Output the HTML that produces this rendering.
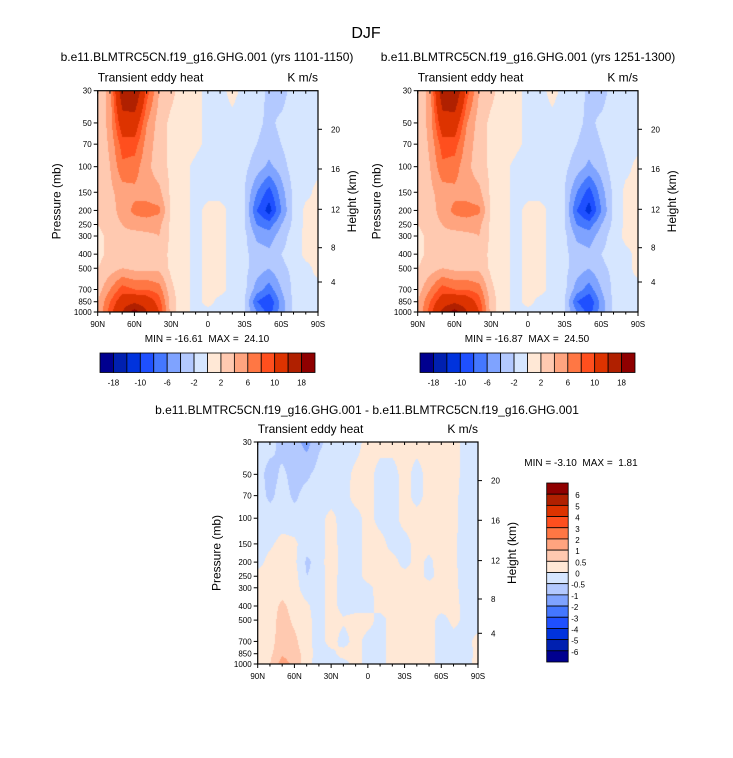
<!DOCTYPE html>
<html><head><meta charset="utf-8">
<style>
body{margin:0;background:#fff;}
#root{position:relative;width:733px;height:758px;overflow:hidden;background:#fff;font-family:"Liberation Sans",sans-serif;}
canvas{position:absolute;}
svg{position:absolute;left:0;top:0;}
</style></head>
<body>
<div id="root">
<canvas id="c1"></canvas>
<canvas id="c2"></canvas>
<canvas id="c3"></canvas>
<svg id="ov" width="733" height="758"></svg>
</div>
<script>
// ---- data ----
const lats = ["90N","80N","70N","60N","50N","40N","30N","20N","10N","0","10S","20S","30S","40S","50S","60S","70S","80S","90S"];
const levels = [30,50,70,100,150,200,250,300,400,500,700,850,1000];
const latTickLabels = ["90N","60N","30N","0","30S","60S","90S"];
const pressureTickLabels = [30,50,70,100,150,200,250,300,400,500,700,850,1000];
const heightTickLabels = [4,8,12,16,20];
const heightTickOffsets = [191.3,157,118.6,78.3,38.6];
const bounds1 = [-18,-14,-10,-8,-6,-4,-2,0,2,4,6,8,10,14,18];
const bounds1Labels = ["-18","","-10","","-6","","-2","","2","","6","","10","","18"];
const boundsDiff = [-6,-5,-4,-3,-2,-1,-0.5,0,0.5,1,2,3,4,5,6];
const boundsDiffLabels = ["-6","-5","-4","-3","-2","-1","-0.5","0","0.5","1","2","3","4","5","6"];
const colors = ["#00008f","#0020b0","#0033dd","#1f50ff","#4477ff","#7fa3ff","#b3c9ff","#d6e6ff","#ffe8d6","#ffc9b0","#ffa47f","#ff7744","#ff4f1e","#dd3300","#b02000","#8f0000"];
const field1 = [
[2,5,17,18,9,4,2.5,1,0.5,-0.5,-0.5,0.5,-0.5,-1,-2.5,-3,-1,-0.5,-0.5],
[2,5,12,12,6,3,1.5,1,0.5,-0.5,-0.5,-0.5,-1,-1.5,-2.5,-1.5,-0.5,-0.5,-0.5],
[2,4.5,9,9,5,3,1.5,1,0.5,-0.5,-0.5,-0.5,-1,-2,-3,-2,-0.5,-0.5,-0.5],
[2,4,7.5,7,4.5,3,1.5,0.5,-0.5,-1.5,-0.5,-0.5,-1.5,-3,-4.5,-3,-1,-0.5,-0.5],
[2,3.5,5,5.5,5,4.5,1.5,0.5,-0.5,-0.5,-0.5,-0.5,-2,-6,-9,-5,-1.5,-0.5,0.5],
[2,3,5,6.5,7,6.5,1.5,0.5,-0.5,0.5,0.5,-0.5,-2,-8,-11,-6,-1.5,0.5,0.5],
[2,3,4,5,5,4.5,1.5,0.5,-0.5,0.5,0.5,-0.5,-2,-6,-7,-4,-1.5,0.5,0.5],
[1.5,2.5,3.5,3,3.5,4,1.5,0.5,-0.5,0.5,0.5,-0.5,-1.5,-4.5,-5,-3,-1,0.5,0.5],
[1.5,2.5,3,3,3,3,1.5,0.5,-0.5,0.5,0.5,-0.5,-1.5,-3,-3.5,-2,-1,0.5,0.5],
[2,3,4,3.5,3.5,3.5,1.5,0.5,-0.5,0.5,0.5,-0.5,-1.5,-3,-4,-2.5,-1.5,-0.5,0.5],
[3,6,9,8,8,7,2.5,0.5,-0.5,0.5,0.5,-0.5,-1.5,-5,-7,-4,-1.5,-0.5,-0.5],
[4,8,12,13,12,9,3,0.5,-0.5,0.5,-0.5,-0.5,-2,-8,-10,-5,-1.5,-0.5,-0.5],
[4,9,14,20,14,10,3,0.5,-0.5,-0.5,-0.5,-0.5,-2,-6,-9,-5,-1.5,-0.5,-0.5]];
const field2 = [
[2,5,17,18,9,4,2.5,1,0.5,-0.5,-0.5,0.5,-0.5,-1,-2.5,-3,-1,-0.5,-0.5],
[2,5,12,12,6,3,1.5,1,0.5,-0.5,-0.5,-0.5,-1,-1.5,-2.5,-1.5,-0.5,-0.5,-0.5],
[2,4.5,9,9,5,3,1.5,1,0.5,-0.5,-0.5,-0.5,-1,-2,-3,-2,-0.5,-0.5,-0.5],
[2,4,7.5,7,4.5,3,1.5,0.5,-0.5,-1.5,-0.5,-0.5,-1.5,-3,-4.5,-3,-1,-0.5,0.5],
[2,3.5,5,5.5,5,4.5,1.5,0.5,-0.5,-0.5,-0.5,-0.5,-2,-6,-9,-5,-1.5,0.5,0.5],
[2,3,5,6.5,7,6.5,1.5,0.5,-0.5,0.5,0.5,-0.5,-2,-8,-11,-6,-1.5,0.5,0.5],
[2,3,4,5,5,4.5,1.5,0.5,-0.5,0.5,0.5,-0.5,-2,-6,-7,-4,-1.5,0.5,0.5],
[1.5,2.5,3.5,3,3.5,4,1.5,0.5,-0.5,0.5,0.5,-0.5,-1.5,-4.5,-5,-3,-1,0.5,0.5],
[1.5,2.5,3,3,3,3,1.5,0.5,-0.5,0.5,0.5,-0.5,-1.5,-3,-3.5,-2,-1,-0.5,0.5],
[2,3,4,3.5,3.5,3.5,1.5,0.5,-0.5,0.5,0.5,-0.5,-1.5,-3,-4,-2.5,-1.5,-0.5,0.5],
[3,6,9,8,8,7,2.5,0.5,-0.5,0.5,0.5,-0.5,-1.5,-5,-7,-4,-1.5,-0.5,-0.5],
[4,8,12,13,12,9,3,0.5,-0.5,0.5,-0.5,-0.5,-2,-8,-10,-5,-1.5,-0.5,-0.5],
[4,9,15,20,14,10,3,0.5,-0.5,-0.5,-0.5,-0.5,-2,-6,-9,-5,-1.5,-0.5,-0.5]];
const fieldDiff = [
[-0.3,-0.3,-0.7,-0.8,-1.2,-0.6,-0.3,-0.3,-0.3,0.3,0.3,0.3,0.3,0.3,0.3,0.3,0.3,-0.3,-0.3],
[-0.3,-0.7,-0.4,-0.7,-0.6,-0.3,-0.3,-0.3,0.2,0.3,-0.3,-0.3,0.3,-0.3,0.3,0.3,0.3,-0.3,-0.3],
[-0.3,-0.6,-0.3,-0.6,-0.3,-0.3,-0.3,-0.3,0.3,0.3,-0.3,-0.3,0.3,-0.3,0.3,0.3,0.2,-0.3,-0.3],
[-0.3,-0.3,-0.3,-0.3,-0.3,-0.2,0.2,-0.3,-0.3,0.3,-0.3,-0.3,0.3,0.3,0.3,0.3,0.2,-0.3,-0.3],
[-0.3,-0.1,0.2,0.1,-0.3,-0.3,0.3,-0.3,-0.3,0.3,0.3,-0.3,-0.3,0.3,0.3,0.3,0.1,-0.3,-0.3],
[-0.2,0.2,0.3,0.1,-0.6,-0.3,0.4,-0.3,-0.3,0.3,0.3,0.3,-0.3,0.3,-0.2,0.4,0.1,-0.3,-0.3],
[0.2,0.3,0.3,0.2,-0.5,-0.3,0.3,-0.3,-0.3,0.3,0.3,0.3,0.3,0.3,-0.2,0.3,0.2,-0.3,-0.3],
[0.2,0.3,0.3,0.2,-0.3,-0.3,0.3,-0.3,-0.3,-0.2,0.3,0.3,0.3,0.3,0.3,0.3,0.2,-0.3,-0.3],
[0.2,0.3,0.6,0.3,0.1,-0.3,0.3,-0.3,-0.3,-0.3,0.3,0.3,0.3,0.3,0.3,0.3,0.2,-0.2,-0.3],
[0.2,0.3,0.7,0.4,0.2,-0.3,0.3,0.1,0.3,0.3,-0.3,0.3,0.3,0.3,0.3,-0.3,0.2,-0.2,-0.3],
[0.2,0.3,0.8,0.6,0.2,-0.3,0.3,-0.3,0.3,-0.3,-0.3,0.3,0.3,0.3,0.3,-0.3,-0.3,-0.2,0.2],
[0.2,0.4,0.9,0.7,0.3,-0.3,-0.2,0.3,0.3,-0.3,-0.3,0.3,0.3,0.3,0.3,-0.3,-0.3,-0.3,0.2],
[0.2,0.5,1.3,0.8,0.2,-0.3,-0.3,-0.3,0.3,-0.3,-0.3,0.3,0.3,0.3,0.3,-0.3,-0.3,-0.3,0.3]];

// ---- rendering ----
const SVGNS="http://www.w3.org/2000/svg";
const ov=document.getElementById('ov');
function el(tag,attrs,txt){const e=document.createElementNS(SVGNS,tag);for(const k in attrs)e.setAttribute(k,attrs[k]);if(txt!==undefined)e.textContent=txt;ov.appendChild(e);return e;}
function colorFor(v,b){let i=0;while(i<b.length&&v>=b[i])i++;return colors[i];}
function hex(c){return [parseInt(c.substr(1,2),16),parseInt(c.substr(3,2),16),parseInt(c.substr(5,2),16)];}

function drawPanel(id,P,field,bounds){
  const cv=document.getElementById(id);
  const W=Math.round(P.w),H=Math.round(P.h);
  cv.width=W;cv.height=H;cv.style.left=P.x+'px';cv.style.top=P.y+'px';
  const ctx=cv.getContext('2d');const img=ctx.createImageData(W,H);
  const yScale=p=>Math.log(p/30)/Math.log(1000/30)*H;
  const ly=levels.map(yScale);
  for(let py=0;py<H;py++){
    const yy=py+0.5;let r=0;while(r<levels.length-2&&yy>ly[r+1])r++;
    const ty=Math.min(1,Math.max(0,(yy-ly[r])/(ly[r+1]-ly[r])));
    for(let px=0;px<W;px++){
      const fx=(px+0.5)/W*(lats.length-1);let c=Math.min(lats.length-2,Math.floor(fx));const tx=fx-c;
      const v=(field[r][c]*(1-tx)+field[r][c+1]*tx)*(1-ty)+(field[r+1][c]*(1-tx)+field[r+1][c+1]*tx)*ty;
      const rgb=hex(colorFor(v,bounds));const o=(py*W+px)*4;
      img.data[o]=rgb[0];img.data[o+1]=rgb[1];img.data[o+2]=rgb[2];img.data[o+3]=255;
    }
  }
  ctx.putImageData(img,0,0);
  const f=el('rect',{x:P.x,y:P.y,width:P.w,height:P.h,fill:'none',stroke:'#000','stroke-width':1.2});
  
  
  pressureTickLabels.forEach(p=>{
    const y=P.y+yScale(p)*P.h/H;
    const t=el('line',{x1:P.x-4,x2:P.x,y1:y,y2:y,stroke:'#000','stroke-width':1});
    
    
    const l=el('text',{x:P.x-6,y:y+3,'font-size':8,'text-anchor':'end'},p);
    
    
  });
  heightTickLabels.forEach((h,i)=>{
    const y=P.y+heightTickOffsets[i];
    el('line',{x1:P.x+P.w,x2:P.x+P.w+4,y1:y,y2:y,stroke:'#000','stroke-width':1});
    const l=el('text',{x:P.x+P.w+13,y:y+3,'font-size':8},h);
    
    
  });
  for(let i=0;i<lats.length;i++){
    const x=P.x+i/(lats.length-1)*P.w;const major=i%3===0;
    el('line',{x1:x,x2:x,y1:P.y,y2:P.y+3,stroke:'#000','stroke-width':1});
    el('line',{x1:x,x2:x,y1:P.y+P.h,y2:P.y+P.h+(major?4:2.5),stroke:'#000','stroke-width':1});
  }
  latTickLabels.forEach((s,i)=>{
    const x=P.x+i/(latTickLabels.length-1)*P.w;
    const l=el('text',{x:x,y:P.y+P.h+15,'font-size':8,'text-anchor':'middle'},s);
    
    
  });
  const y1=el('text',{x:0,y:0,'font-size':12,'text-anchor':'middle',transform:`translate(${P.x-37},${P.y+P.h/2}) rotate(-90)`},'Pressure (mb)');
  
  
  const y2=el('text',{x:0,y:0,'font-size':12,'text-anchor':'middle',transform:`translate(${P.x+P.w+38},${P.y+P.h/2}) rotate(-90)`},'Height (km)');
  
  
  const lt=el('text',{x:P.x,y:P.y-9,'font-size':12},'Transient eddy heat');
  
  
  const rt=el('text',{x:P.x+P.w,y:P.y-9,'font-size':12,'text-anchor':'end'},'K m/s');
  
  
}
function hbar(x,y,w,h){
  const n=colors.length;
  for(let i=0;i<n;i++){
    const r=el('rect',{x:x+i*w/n,y:y,width:w/n,height:h,fill:colors[i],stroke:'#000','stroke-width':0.8});
    
    
  }
  bounds1Labels.forEach((s,i)=>{ if(!s)return;
    const l=el('text',{x:x+(i+1)*w/n,y:y+h+13,'font-size':8,'text-anchor':'middle'},s);
    
    
  });
}
function vbar(x,y,w,h){
  const n=colors.length;
  for(let i=0;i<n;i++){
    const r=el('rect',{x:x,y:y+i*h/n,width:w,height:h/n,fill:colors[n-1-i],stroke:'#000','stroke-width':0.8});
    
    
  }
  boundsDiffLabels.slice().reverse().forEach((s,i)=>{
    const l=el('text',{x:x+w+4+(s[0]==='-'?-1:3),y:y+(i+1)*h/n+4,'font-size':8},s);
    
    
  });
}
function text(x,y,s,size,anchor,name){const t=el('text',{x:x,y:y,'font-size':size,'text-anchor':anchor||'middle'},s);}

const P1={x:97.7,y:90.7,w:220.3,h:221.3},P2={x:417.7,y:90.7,w:220.3,h:221.3},P3={x:257.7,y:442,w:220.3,h:222};
drawPanel('c1',P1,field1,bounds1);
drawPanel('c2',P2,field2,bounds1);
drawPanel('c3',P3,fieldDiff,boundsDiff);
hbar(100,353,215,19.5);
hbar(420,353,215,19.5);
vbar(546.7,483,21.5,179);
text(366,38,'DJF',16,'middle','figure-title');
text(207,61,'b.e11.BLMTRC5CN.f19_g16.GHG.001 (yrs 1101-1150)',12,'middle','panel-1-title');
text(528,61,'b.e11.BLMTRC5CN.f19_g16.GHG.001 (yrs 1251-1300)',12,'middle','panel-2-title');
text(207,342,'MIN = -16.61  MAX =  24.10',10,'middle','panel-1-min-max');
text(527,342,'MIN = -16.87  MAX =  24.50',10,'middle','panel-2-min-max');
text(367,414,'b.e11.BLMTRC5CN.f19_g16.GHG.001 - b.e11.BLMTRC5CN.f19_g16.GHG.001',12,'middle','difference-title');
text(581,466,'MIN = -3.10  MAX =  1.81',10,'middle','difference-min-max');
ov.querySelectorAll('text').forEach(t=>t.style.whiteSpace='pre');
</script>
</body></html>
